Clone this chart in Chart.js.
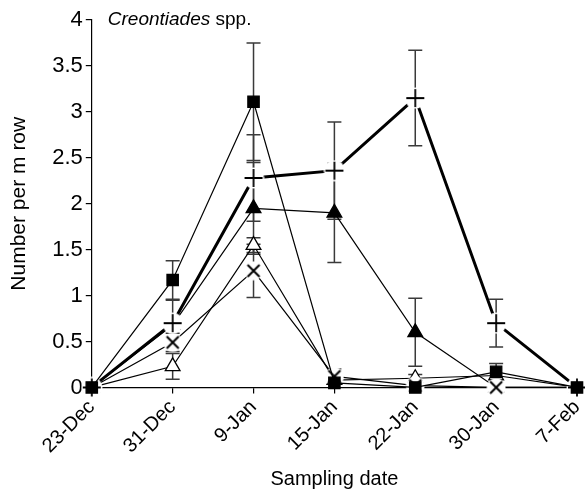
<!DOCTYPE html>
<html>
<head>
<meta charset="utf-8">
<script src="https://cdn.jsdelivr.net/npm/chart.js@4/dist/chart.umd.min.js"></script>
<style>
    html, body { margin: 0; padding: 0; background: #fff; }
    #wrap { width: 585px; height: 499px; }
</style>
</head>
<body>
<div id="wrap"><canvas id="chart"></canvas></div>
<script>
// sampling dates (x categories)
const dates = ['23-Dec', '31-Dec', '9-Jan', '15-Jan', '22-Jan', '30-Jan', '7-Feb']

// mean number per m row, one array per treatment, with standard errors
const squareVals = [0, 1.17, 3.11, 0.05, 0.0, 0.17, 0.0]
const squareErr  = [0, 0.21, 0.64, 0, 0, 0.09, 0]

const plusVals = [0, 0.70, 2.28, 2.36, 3.15, 0.70, 0.0]
const plusErr  = [0, 0.25, 0.47, 0.53, 0.52, 0.26, 0]

const filledTriVals = [0, 0.68, 1.95, 1.90, 0.60, 0.0, 0.0]
const filledTriErr  = [0, 0, 0.50, 0.54, 0.37, 0, 0]

const openTriVals = [0, 0.23, 1.55, 0.08, 0.10, 0.13, 0.0]
const openTriErr  = [0, 0.14, 0.08, 0, 0.04, 0, 0]

const crossVals = [0, 0.49, 1.27, 0.12, 0.02, 0.0, 0.0]
const crossErr  = [0, 0.10, 0.29, 0.08, 0, 0, 0]

const yTicks = { min: 0, max: 4, step: 0.5 }

const FONT = 'Liberation Sans, Arial, Helvetica, sans-serif'

// markers with a white halo, like the original where lines stop short of them
function haloMarker(size, halo, width, draw) {
    const c = document.createElement('canvas')
    c.width = size; c.height = size
    const g = c.getContext('2d')
    const m = size / 2
    g.fillStyle = '#fff'
    g.beginPath(); g.arc(m, m, halo, 0, Math.PI * 2); g.fill()
    g.strokeStyle = '#000'; g.lineWidth = width
    g.beginPath()
    draw(g, m)
    g.stroke()
    return c
}

const plusMarker = haloMarker(22, 10.5, 1.8, (g, m) => {
    g.moveTo(m - 9, m); g.lineTo(m + 9, m)
    g.moveTo(m, m - 9); g.lineTo(m, m + 9)
})

const crossMarker = haloMarker(20, 9.5, 2, (g, m) => {
    g.moveTo(m - 6, m - 6); g.lineTo(m + 6, m + 6)
    g.moveTo(m + 6, m - 6); g.lineTo(m - 6, m + 6)
})

const errorBars = {
    id: 'errorBars',
    beforeDatasetsDraw(chart) {
        const { ctx, scales: { x, y } } = chart
        ctx.save()
        ctx.strokeStyle = '#3a3a3a'
        ctx.lineWidth = 1.5
        chart.data.datasets.forEach(ds => {
            ds.errors.forEach((e, i) => {
                if (!e) return
                const px = x.getPixelForValue(i)
                const top = y.getPixelForValue(ds.data[i] + e)
                const bot = y.getPixelForValue(Math.max(0, ds.data[i] - e))
                ctx.beginPath()
                ctx.moveTo(px, top); ctx.lineTo(px, bot)
                ctx.moveTo(px - 7, top); ctx.lineTo(px + 7, top)
                ctx.moveTo(px - 7, bot); ctx.lineTo(px + 7, bot)
                ctx.stroke()
            })
        })
        ctx.restore()
    }
}

const panelTitle = {
    id: 'panelTitle',
    afterDraw(chart) {
        const { ctx, chartArea, scales: { y } } = chart
        const ty = y.getPixelForValue(yTicks.max)
        let tx = chartArea.left + 16
        ctx.save()
        // x axis line runs on to the edge of the figure
        ctx.strokeStyle = '#000'
        ctx.lineWidth = 1.2
        ctx.beginPath()
        ctx.moveTo(chartArea.right + 8, chartArea.bottom)
        ctx.lineTo(chart.width, chartArea.bottom)
        ctx.stroke()
        ctx.fillStyle = '#000'
        ctx.textBaseline = 'middle'
        ctx.font = 'italic 19px ' + FONT
        ctx.fillText('Creontiades', tx, ty)
        tx += ctx.measureText('Creontiades ').width
        ctx.font = '19px ' + FONT
        ctx.fillText('spp.', tx, ty)
        ctx.restore()
    }
}

function series(data, errors, style, opts) {
    return Object.assign({
        data: data,
        errors: errors,
        borderColor: '#000',
        backgroundColor: '#000',
        borderWidth: 1.2,
        pointStyle: style,
        pointBorderColor: '#000',
        pointBorderWidth: 1.3,
        pointRadius: 8,
        tension: 0,
        clip: false
    }, opts || {})
}

const axisGrid = { display: true, drawOnChartArea: false, drawTicks: true, tickLength: 6, color: '#000', lineWidth: 1.2 }

// first dataset is drawn on top
new Chart(document.getElementById('chart'), {
    type: 'line',
    data: {
        labels: dates,
        datasets: [
            series(squareVals, squareErr, 'rect', { pointBackgroundColor: '#000', pointRadius: 8 }),
            series(plusVals, plusErr, plusMarker, { borderWidth: 3, pointRadius: 11 }),
            series(crossVals, crossErr, crossMarker, { pointRadius: 10 }),
            series(openTriVals, openTriErr, 'triangle', { pointBackgroundColor: '#fff', pointRadius: 8.5 }),
            series(filledTriVals, filledTriErr, 'triangle', { pointBackgroundColor: '#000', pointRadius: 8.5 })
        ]
    },
    options: {
        responsive: true,
        maintainAspectRatio: false,
        animation: false,
        layout: { autoPadding: false, padding: { left: 6, top: 20, right: 0, bottom: 4 } },
        plugins: { legend: { display: false }, tooltip: { enabled: false } },
        scales: {
            x: {
                offset: false,
                grid: axisGrid,
                border: { color: '#000', width: 1.2 },
                ticks: { color: '#000', font: { family: FONT, size: 20 }, minRotation: 45, maxRotation: 45, autoSkip: false, padding: 2 },
                title: { display: true, text: 'Sampling date', color: '#000', font: { family: FONT, size: 20 }, padding: { top: 7, bottom: 4 } },
                afterFit(scale) { scale.paddingRight = 8 }
            },
            y: {
                min: yTicks.min,
                max: yTicks.max,
                grid: axisGrid,
                border: { color: '#000', width: 1.2 },
                ticks: { stepSize: yTicks.step, color: '#000', font: { family: FONT, size: 22 }, padding: 3, callback: v => String(+v) },
                title: { display: true, text: 'Number per m row', color: '#000', font: { family: FONT, size: 21 }, padding: { top: 1, bottom: 17 } }
            }
        }
    },
    plugins: [errorBars, panelTitle]
})
</script>
</body>
</html>
